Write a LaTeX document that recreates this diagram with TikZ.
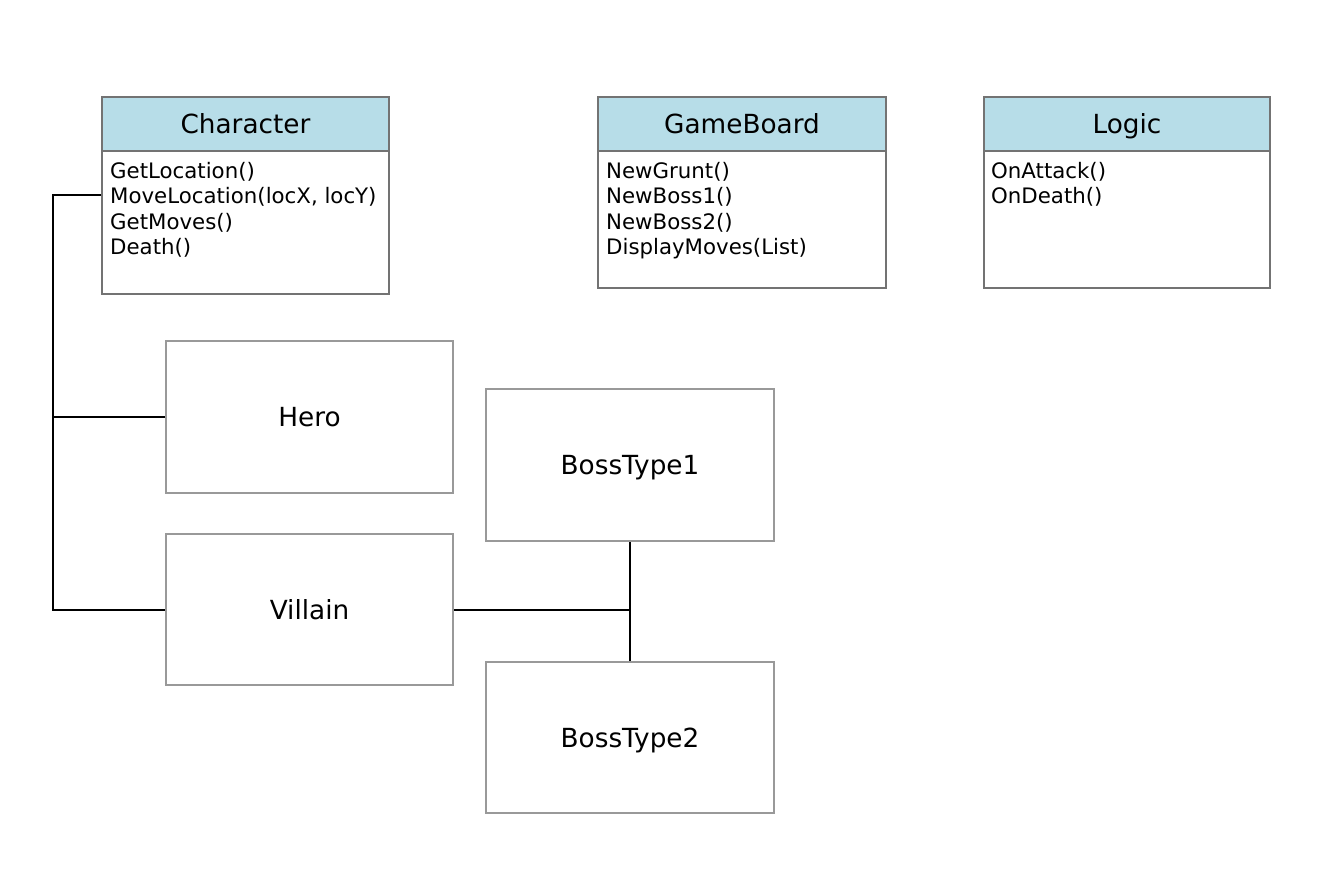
\documentclass[tikz,border=0pt]{standalone}
\usepackage{fontspec}
\setmainfont{DejaVu Sans}
\usetikzlibrary{calc}
\definecolor{hdr}{HTML}{B7DDE8}
\definecolor{umlline}{HTML}{737373}
\definecolor{boxline}{HTML}{999999}
\begin{document}
\begin{tikzpicture}[x=1pt,y=-1pt,
  hdrbox/.style={draw=umlline,fill=hdr,line width=2pt,anchor=north west,inner sep=0pt,minimum height=54pt,text height=19pt,text depth=0pt,font=\fontsize{26.3}{30}\selectfont},
  bodybox/.style={draw=umlline,fill=white,line width=2pt,anchor=north west,inner sep=0pt},
  members/.style={anchor=north west,inner sep=0pt,align=left,font=\fontsize{21.3}{25.5}\selectfont},
  plainbox/.style={draw=boxline,fill=white,line width=2pt,anchor=north west,inner sep=0pt,text height=19pt,text depth=0pt,font=\fontsize{26.3}{30}\selectfont},
  conn/.style={draw=black,line width=2pt}]
\useasboundingbox[fill=white] (0,0) rectangle (1330,872);
% UML classes
\node[hdrbox,minimum width=287pt] (charhdr) at (101,96) {Character};
\node[bodybox,minimum width=287pt,minimum height=143pt] (charbody) at (101,150) {};
\node[members] (chartext) at (110,162) {GetLocation()\\MoveLocation(locX, locY)\\GetMoves()\\Death()};
\node[hdrbox,minimum width=288pt] (gbhdr) at (597,96) {GameBoard};
\node[bodybox,minimum width=288pt,minimum height=137pt] (gbbody) at (597,150) {};
\node[members] (gbtext) at (606,162) {NewGrunt()\\NewBoss1()\\NewBoss2()\\DisplayMoves(List)};
\node[hdrbox,minimum width=286pt] (logichdr) at (983,96) {Logic};
\node[bodybox,minimum width=286pt,minimum height=137pt] (logicbody) at (983,150) {};
\node[members] (logictext) at (991,162) {OnAttack()\\OnDeath()};
% plain boxes
\node[plainbox,minimum width=287pt,minimum height=152pt] (hero) at (165,340) {Hero};
\node[plainbox,minimum width=287pt,minimum height=151pt] (villain) at (165,533) {Villain};
\node[plainbox,minimum width=288pt,minimum height=152pt] (boss1) at (485,388) {BossType1};
\node[plainbox,minimum width=288pt,minimum height=151pt] (boss2) at (485,661) {BossType2};
% connectors
\coordinate (rail) at (53,0);
\coordinate (charport) at ([yshift=-45pt]charbody.north west);
\draw[conn] (charport) -- (charport -| rail) |- (villain.west);
\draw[conn] (hero.west) -- (hero.west -| rail);
\draw[conn] (villain.east) -- (villain.east -| boss1.south);
\draw[conn] (boss1.south) -- (boss2.north);
\end{tikzpicture}
\end{document}
